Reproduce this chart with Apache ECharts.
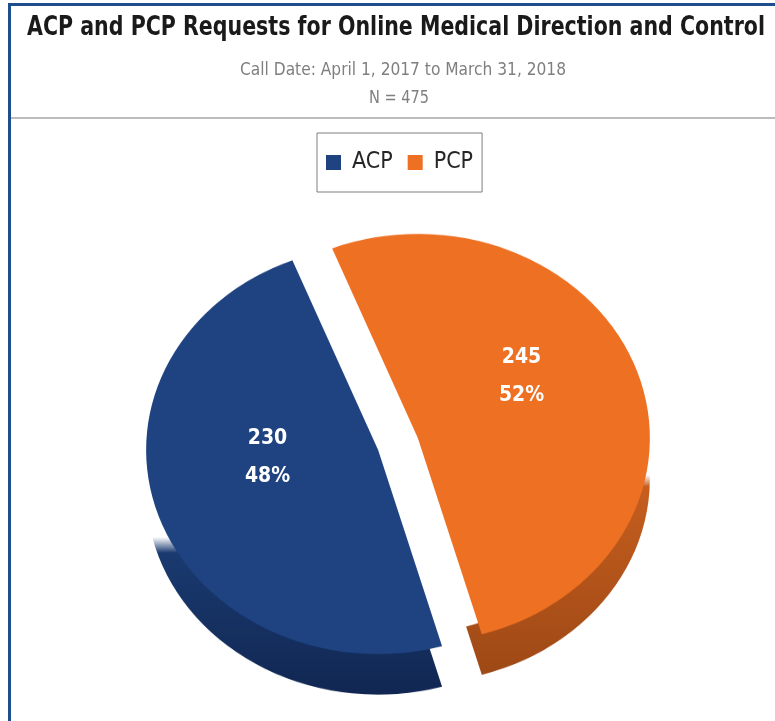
<!DOCTYPE html>
<html>
<head>
<meta charset="utf-8">
<script src="https://cdn.jsdelivr.net/npm/echarts@6/dist/echarts.min.js"></script>
<style>
  html, body { margin: 0; padding: 0; background: #ffffff; }
  #wrap { position: relative; width: 775px; height: 721px; overflow: hidden; }
  #pie, #frame { position: absolute; left: 0; top: 0; width: 775px; }
  #frame { height: 721px; pointer-events: none; }
  /* the pie disc is tilted: squash it vertically around its centre */
  #pie { height: 820px; transform: scaleY(0.88); transform-origin: 398px 444px; }
</style>
</head>
<body>
<div id="wrap">
  <div id="pie"></div>
  <div id="frame"></div>
</div>
<script>
// ---- data ----
const categories = ['ACP', 'PCP'];
const requests = [230, 245];
const titleText = 'ACP and PCP Requests for Online Medical Direction and Control';
const subtitleLines = ['Call Date: April 1, 2017 to March 31, 2018', 'N = 475'];

// ---- styling ----
const FONT = '"Liberation Sans Narrow", "DejaVu Sans Condensed", "Arial Narrow", sans-serif';
const faceColors = ['#1F4381', '#EE7022'];
const sideRGB = [[26, 58, 112], [198, 94, 30]];
const sideDark = ['#112752', '#9E4916'];
// where the side wall becomes visible, as a fraction of each slice's height
const sideFade = [[0.6, 0.64], [0.5, 0.53]];

const CX = 398, CY = 444;       // pie centre on screen
const R = 232;                  // radius before the vertical squash
const DEPTH = 46;               // thickness of the disc before the squash
const START = 286;              // ACP starts at the lower split edge
const EXPLODE = 21;

function pieData(colorFn) {
  return categories.map((name, i) => ({
    name: name,
    value: requests[i],
    selected: true,
    itemStyle: { color: colorFn(i) }
  }));
}

function rgba(c, a) {
  return 'rgba(' + c[0] + ',' + c[1] + ',' + c[2] + ',' + a + ')';
}

function sideGradient(i) {
  return new echarts.graphic.LinearGradient(0, 0, 0, 1, [
    { offset: 0, color: rgba(sideRGB[i], 0) },
    { offset: sideFade[i][0], color: rgba(sideRGB[i], 0) },
    { offset: sideFade[i][1], color: rgba(sideRGB[i], 1) },
    { offset: 1, color: sideDark[i] }
  ]);
}

const pieCommon = {
  type: 'pie',
  startAngle: START,
  clockwise: true,
  selectedMode: 'multiple',
  selectedOffset: EXPLODE,
  animation: false,
  label: { show: false },
  labelLine: { show: false },
  emphasis: { disabled: true }
};

// ---- disc: side wall + top face ----
const pieChart = echarts.init(document.getElementById('pie'), null, { renderer: 'canvas' });
pieChart.setOption({
  backgroundColor: 'transparent',
  series: [
    Object.assign({}, pieCommon, {
      name: 'side',
      z: 1,
      center: [CX, CY + DEPTH],
      radius: [175, R],
      data: pieData(sideGradient)
    }),
    Object.assign({}, pieCommon, {
      name: 'face',
      z: 2,
      center: [CX, CY],
      radius: [0, R],
      data: pieData(i => faceColors[i])
    })
  ]
});

// ---- text helpers: condensed headings fitted to a set width ----
const measureCtx = document.createElement('canvas').getContext('2d');
function fitScale(text, font, width) {
  measureCtx.font = font;
  return width / measureCtx.measureText(text).width;
}
function heading(text, x, y, font, fill, width) {
  const s = fitScale(text, font, width);
  return {
    type: 'text', x: x, y: y, scaleX: s, scaleY: 1,
    style: { text: text, textAlign: 'center', textVerticalAlign: 'middle', font: font, fill: fill }
  };
}

// ---- frame: titles, legend, value labels ----
const labelShift = [[2, -32], [-9, -22]];
const titleFont = 'bold 26px ' + FONT;
const subFont = '18px ' + FONT;

const frameChart = echarts.init(document.getElementById('frame'), null, { renderer: 'canvas' });
frameChart.setOption({
  backgroundColor: 'transparent',
  legend: {
    left: 317,
    top: 133,
    orient: 'horizontal',
    padding: [17, 9, 17, 9],
    borderColor: '#7F7F7F',
    borderWidth: 1,
    itemGap: 15,
    itemWidth: 15,
    itemHeight: 15,
    icon: 'rect',
    selectedMode: false,
    data: categories.map((n, i) => ({ name: n, itemStyle: { color: faceColors[i], opacity: 1 } })),
    textStyle: {
      fontFamily: FONT,
      fontSize: 23,
      color: '#262626',
      lineHeight: 25,
      padding: [0, 0, 0, 6]
    }
  },
  graphic: [
    { type: 'rect', shape: { x: 8, y: 3, width: 767, height: 3 }, style: { fill: '#1F4E8C' } },
    { type: 'rect', shape: { x: 8, y: 3, width: 3, height: 718 }, style: { fill: '#1F4E8C' } },
    { type: 'line', shape: { x1: 11, y1: 118, x2: 775, y2: 118 }, style: { stroke: '#A6A6A6', lineWidth: 1.5 } },
    heading(titleText, 396, 28, titleFont, '#1A1A1A', 738),
    heading(subtitleLines[0], 403, 70, subFont, '#7F7F7F', 326),
    heading(subtitleLines[1], 399, 98, subFont, '#7F7F7F', 60)
  ],
  series: [
    Object.assign({}, pieCommon, {
      name: 'labels',
      center: [CX, CY],
      radius: [0, R],
      data: pieData(() => 'rgba(0,0,0,0)'),
      label: {
        show: true,
        position: 'inside',
        color: '#FFFFFF',
        fontFamily: FONT,
        fontWeight: 'bold',
        fontSize: 21,
        lineHeight: 38,
        formatter: p => p.value + '\n' + Math.round(p.percent) + '%'
      },
      labelLayout: p => ({ dx: labelShift[p.dataIndex][0], dy: labelShift[p.dataIndex][1] })
    })
  ]
});
</script>
</body>
</html>
